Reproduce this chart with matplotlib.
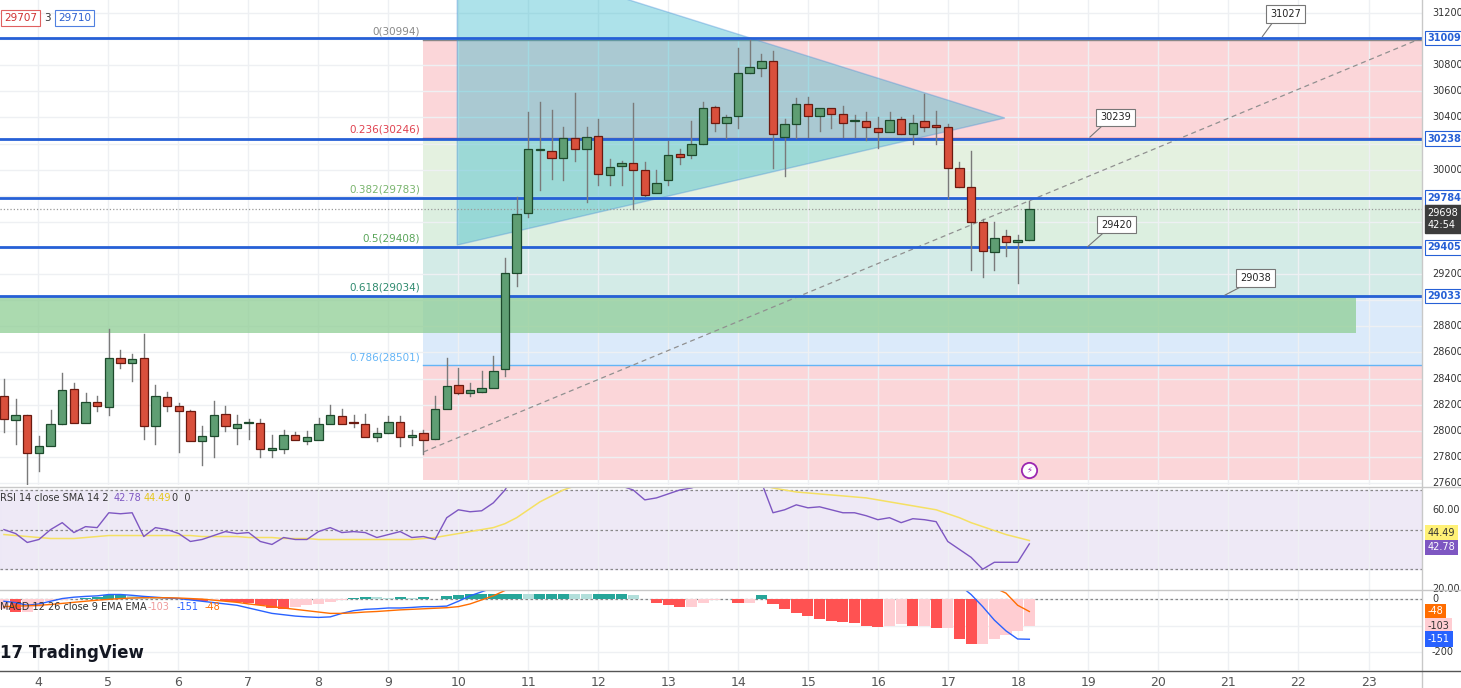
import matplotlib
matplotlib.use("Agg")
import matplotlib.pyplot as plt
import numpy as np
from matplotlib.patches import Rectangle, Polygon

# ---------------- data ----------------
opens  = [28270,28080,28120,27830,27880,28050,28320,28060,28220,28180,28560,28520,28560,28040,28260,28190,28150,27920,27960,28130,
          28020,28060,28060,27850,27860,27970,27920,27930,28050,28110,28070,28050,27950,27980,28070,27950,27980,27940,28170,28350,
          28290,28300,28330,28470,29210,29670,30150,30140,30090,30240,30160,30260,29960,30030,30050,30000,29820,29920,30120,30110,
          30200,30480,30360,30410,30740,30780,30830,30250,30350,30500,30410,30470,30430,30370,30370,30320,30290,30390,30270,30370,
          30340,30330,30010,29870,29600,29370,29490,29450,29460]
closes = [28090,28120,27830,27880,28050,28310,28060,28220,28190,28560,28520,28550,28040,28270,28190,28150,27920,27960,28120,28040,
          28050,28060,27860,27870,27970,27930,27950,28050,28120,28050,28060,27950,27980,28070,27950,27970,27930,28170,28340,28290,
          28310,28330,28460,29210,29660,30160,30150,30090,30240,30160,30250,29970,30020,30050,30000,29810,29900,30110,30100,30200,
          30470,30360,30400,30740,30790,30830,30270,30350,30500,30410,30470,30430,30360,30370,30330,30290,30380,30270,30360,30330,
          30330,30010,29870,29600,29380,29480,29450,29460,29700]
highs  = [28400,28240,28120,27960,28160,28440,28370,28290,28270,28780,28620,28590,28740,28350,28300,28210,28160,28040,28230,28190,
          28120,28090,28090,27970,28010,27990,28000,28100,28200,28170,28120,28130,28020,28110,28110,28010,28010,28270,28560,28480,
          28370,28460,28570,29320,29790,30440,30520,30460,30330,30590,30330,30390,30080,30070,30510,30060,30000,30220,30160,30370,
          30520,30490,30420,30930,30994,30890,30910,30390,30550,30560,30440,30460,30490,30420,30440,30400,30440,30400,30420,30580,
          30450,30350,30060,30140,29620,29600,29540,29500,29760]
lows   = [27990,27900,27580,27690,27960,28050,28080,28080,28150,28120,28480,28380,27940,27900,28150,27840,27940,27740,27800,28000,
          27900,27940,27800,27800,27830,27950,27900,27970,28090,28100,28030,27960,27920,27980,27880,27890,27820,27940,28180,28280,
          28270,28300,28360,28420,29110,29640,29845,29930,29920,30070,29750,29880,29880,29880,29700,29800,29850,29880,30040,30090,
          30200,30300,30240,30320,30740,30720,30010,29950,30240,30250,30300,30320,30250,30250,30230,30170,30310,30270,30200,30300,
          30200,29780,29870,29230,29180,29230,29340,29130,29460]

rsi = [50,48,43.5,45,50,53.5,48.5,51.5,51,58.5,58,58.5,46.5,51,50,48,44,45,47,49,
       48,48.5,44,42.5,46,45,45,49,51,48.5,49,48.5,46,47.5,49,46,46.5,45,56,60,
       59,59.5,63.5,70,80,84,85,82,80,79,76,74,74,72,70,65,66,68,70,
       71,73,72,73,75,74,74,58.5,60,62.5,61,61.5,60,58.5,58.5,57,55,56,53.5,55.5,
       55,54,44,40,36,30,33.5,33.5,33.5,42.78]
rsi_sma = [47.5,47,46.5,46,45.5,45.5,45.5,46,46.5,47,47,47,47,47,47,47,47,46.5,46.5,46.5,
           46.5,46,46,46,45.5,45.5,45.5,45,45,45,45,45,45,45,45,45,45.5,46,47,48,
           49,50,51,53,56,60,64,67,70,72,73,73.5,74,74,74,73.5,73.5,73,73,
           73,73,73,73,73,73,72.5,71,70,69,68.5,68,67.5,67,66.5,66,65,64,63,62,
           61,60,58,56,53.5,51.5,49.5,47.5,46,44.49]
macd_hist = [-40,-50,-50,-30,-10,-5,0,2,5,12,12,10,8,4,3,-3,-5,-8,-5,-8,
             -12,-15,-25,-35,-40,-30,-25,-20,-12,-5,3,6,4,2,5,2,4,-3,8,14,
             17,18,18,18,18,17,18,18,18,17,16,16,16,16,14,-3,-15,-25,-32,
             -30,-15,-5,-3,-18,-18,12,-20,-40,-55,-65,-75,-82,-88,-92,-100,-105,-100,-95,-100,
             -100,-110,-110,-150,-170,-170,-150,-135,-120,-103]
macd_line = [-10,-15,-25,-20,-10,0,5,8,10,15,15,12,8,5,2,0,-5,-10,-15,-20,
             -25,-35,-45,-55,-60,-65,-68,-70,-68,-55,-45,-40,-38,-35,-35,-33,-30,-30,-28,-10,
             10,25,40,60,90,150,220,280,320,350,370,380,390,385,380,360,330,300,280,
             270,270,275,290,320,340,330,300,280,260,240,220,200,180,160,140,120,110,100,90,
             80,75,70,50,15,-30,-80,-120,-150,-151]
macd_signal = [-30,-28,-27,-25,-22,-18,-14,-10,-6,-3,0,2,3,3,3,2,0,-2,-6,-10,
               -14,-20,-25,-30,-35,-40,-45,-50,-55,-55,-53,-50,-48,-45,-42,-40,-38,-36,-34,-30,
               -20,-5,10,30,60,110,170,230,280,320,350,365,375,380,380,375,360,340,320,
               300,290,285,290,300,310,315,310,300,290,275,260,245,230,215,200,185,170,155,140,
               125,115,105,95,80,60,40,20,-25,-48]

day_labels = ["4","5","6","7","8","9","10","11","12","13","14","15","16","17","18","19","20","21","22","23"]
h_levels = [31009, 30238, 29784, 29405, 29033]
fib_ratios = ["0", "0.236", "0.382", "0.5", "0.618", "0.786"]
fib_prices = [30994, 30246, 29783, 29408, 29034, 28501]
callout_vals = [31027, 30239, 29420, 29038]
last_price = 29698

# ---------------- layout ----------------
W, H = 1461, 688
fig = plt.figure(figsize=(W/100, H/100), dpi=100)
fig.patch.set_facecolor("white")
ax = fig.add_axes([0, 1-485/H, 1422/W, 485/H])
axr = fig.add_axes([0, 1-590/H, 1422/W, 102/H])
axm = fig.add_axes([0, 1-670/H, 1422/W, 79/H])

n = len(opens)
idx = np.arange(n)
XMIN, XMAX = -0.34, 121.7
day_pos = [2.92 + 6.01*k for k in range(len(day_labels))]

for a in (ax, axr, axm):
    a.set_xlim(XMIN, XMAX)
    a.set_xticks(day_pos)
    a.tick_params(length=0, labelleft=False, labelbottom=False)
    a.grid(True, color="#eef0f3", lw=1)
    a.set_axisbelow(True)
    for s in a.spines.values():
        s.set_visible(False)
axm.tick_params(labelbottom=True, labelsize=9, colors="#555", pad=4)
axm.set_xticklabels(day_labels)
fig.add_artist(plt.Line2D([1422/W, 1422/W], [0, 1], color="#c8c8c8", lw=1))
fig.add_artist(plt.Line2D([0, 1], [1-487/H]*2, color="#c8c8c8", lw=1))
fig.add_artist(plt.Line2D([0, 1], [1-590/H]*2, color="#c8c8c8", lw=1))
fig.add_artist(plt.Line2D([0, 1], [1-671/H]*2, color="#555", lw=1))

RX = 1.004   # right-axis label x (axes fraction)
FS = 7

# ---------------- main panel ----------------
PMIN, PMAX = 27585, 31300
ax.set_ylim(PMIN, PMAX)
ax.set_yticks(np.arange(27600, 31300, 200))

fx0 = 36.0
band_cols = ["#fbd6d9", "#e4f1e0", "#dcefe0", "#d3ebe7", "#dbeafa", "#fbd6d9"]
edges = fib_prices + [27620]
for k in range(len(fib_prices)):
    ax.add_patch(Rectangle((fx0, edges[k+1]), XMAX-fx0, edges[k]-edges[k+1],
                           facecolor=band_cols[k], edgecolor="none", zorder=0.5))
fib_cols = ["#888888", "#e0414f", "#7ab56e", "#5aa55a", "#2e8a6e", "#64b5f6"]
for r, p, c in zip(fib_ratios, fib_prices, fib_cols):
    ax.plot([fx0, XMAX], [p, p], color=c, lw=1, zorder=1)
    ax.text(fx0-0.3, p+25, f"{r}({p})", ha="right", va="bottom", fontsize=7.5, color=c)

# green zone
ax.add_patch(Rectangle((XMIN, 28750), 116.0-XMIN, 29030-28750,
                       facecolor="#8fce95", alpha=0.75, edgecolor="none", zorder=0.8))

# triangle
tri = Polygon([(38.9, 31714), (85.9, 30396), (38.9, 29423)], closed=True,
              facecolor="#28b4c8", alpha=0.38, edgecolor="#4a8fd8", lw=1, zorder=1.2)
ax.add_patch(tri)

# trend dashed line
ax.plot([36.0, 121.7], [27838, 31009], ls=(0, (4, 3)), color="#909090", lw=0.9, zorder=1.5)
ax.axhline(last_price, color="#999", ls=":", lw=0.9, zorder=1.5)

for p in h_levels:
    ax.axhline(p, color="#2660d6", lw=2, zorder=2)

# candles
for i in range(n):
    o, c, hh, ll = opens[i], closes[i], highs[i], lows[i]
    up = c >= o
    ax.plot([i, i], [ll, hh], color="#7a7a7a", lw=1, zorder=3)
    fc = "#5f9e73" if up else "#d9503c"
    ec = "#1d4a2c" if up else "#6b1a10"
    ax.add_patch(Rectangle((i-0.36, min(o, c)), 0.72, max(abs(c-o), 8),
                           facecolor=fc, edgecolor=ec, lw=0.9, zorder=4))

# callouts
call_pos = [(110.0, 31190, 108.0, 31020), (95.4, 30400, 93.2, 30250), (95.5, 29580, 93.0, 29410), (107.4, 29170, 104.8, 29040)]
for v, (tx, ty, axx, ayy) in zip(callout_vals, call_pos):
    ax.plot([tx-1.1, axx], [ty-60, ayy], color="#777", lw=0.8, zorder=5)
    ax.text(tx, ty, str(v), fontsize=7, ha="center", va="center", color="#222", zorder=6,
            bbox=dict(boxstyle="square,pad=0.4", fc="white", ec="#777", lw=0.8))

# header boxes
ax.text(0.003, 0.963, "29707", transform=ax.transAxes, fontsize=7.5, color="#d03030", va="center",
        bbox=dict(boxstyle="square,pad=0.3", fc="white", ec="#e06060", lw=0.8))
ax.text(0.031, 0.963, "3", transform=ax.transAxes, fontsize=7.5, color="#333", va="center")
ax.text(0.041, 0.963, "29710", transform=ax.transAxes, fontsize=7.5, color="#2a5fd0", va="center",
        bbox=dict(boxstyle="square,pad=0.3", fc="white", ec="#5080e0", lw=0.8))
ax.plot([88.0], [27700], marker="o", ms=11, mfc="white", mec="#9c27b0", mew=1.3, zorder=6)
ax.text(88.0, 27700, "⚡", fontsize=6, color="#9c27b0", ha="center", va="center", zorder=7)

# right price axis
for p in [31200, 30800, 30600, 30400, 30000, 29200, 28800, 28600, 28400, 28200, 28000, 27800, 27600]:
    ax.text(RX+0.003, p, str(p), transform=ax.get_yaxis_transform(), fontsize=FS, color="#333", va="center")
for p in h_levels:
    ax.text(RX, p, str(p), transform=ax.get_yaxis_transform(), fontsize=FS, color="#2660d6",
            va="center", fontweight="bold",
            bbox=dict(boxstyle="square,pad=0.25", fc="white", ec="#2660d6", lw=0.8))
ax.text(RX, last_price-75, str(last_price)+"\n42:54", transform=ax.get_yaxis_transform(), fontsize=FS,
        color="white", va="center", linespacing=1.3, clip_on=False,
        bbox=dict(boxstyle="square,pad=0.25", fc="#3c3c3c", ec="#3c3c3c"))

# ---------------- RSI ----------------
axr.set_ylim(19.5, 71)
axr.set_yticks([])
axr.axhspan(30, 70, color="#ede7f6", alpha=0.9, zorder=0)
for lv in (70, 50, 30):
    axr.axhline(lv, color="#888", ls=(0, (2, 2)), lw=0.9)
axr.plot(np.arange(len(rsi_sma)), rsi_sma, color="#f5e063", lw=1.1, zorder=2)
axr.plot(np.arange(len(rsi)), rsi, color="#7e57c2", lw=1, zorder=3)
axr.text(0.0, 0.90, "RSI 14 close SMA 14 2", transform=axr.transAxes, fontsize=7, color="#333", va="center")
axr.text(0.080, 0.90, "42.78", transform=axr.transAxes, fontsize=7, color="#7e57c2", va="center")
axr.text(0.101, 0.90, "44.49", transform=axr.transAxes, fontsize=7, color="#e6c619", va="center")
axr.text(0.121, 0.90, "0  0", transform=axr.transAxes, fontsize=7, color="#333", va="center")
for p in (60, 20):
    axr.text(RX+0.003, p, f"{p:.2f}", transform=axr.get_yaxis_transform(), fontsize=FS, color="#333", va="center")
axr.text(RX, 48.5, "44.49", transform=axr.get_yaxis_transform(), fontsize=FS, color="#333", va="center",
         bbox=dict(boxstyle="square,pad=0.3", fc="#fff176", ec="none"))
axr.text(RX, 41.0, "42.78", transform=axr.get_yaxis_transform(), fontsize=FS, color="white", va="center",
         bbox=dict(boxstyle="square,pad=0.3", fc="#7e57c2", ec="none"))

# ---------------- MACD ----------------
axm.set_ylim(-265, 28)
axm.set_yticks([-200, -100, 0])
axm.axhline(0, color="#888", ls=(0, (2, 2)), lw=0.9)
cols = []
for i, v in enumerate(macd_hist):
    prev = macd_hist[i-1] if i else v
    if v >= 0:
        cols.append("#26a69a" if v >= prev else "#b2dfdb")
    else:
        cols.append("#ff5252" if v < prev else "#ffcdd2")
axm.bar(np.arange(len(macd_hist)), macd_hist, width=0.95, color=cols, zorder=2)
axm.plot(np.arange(len(macd_line)), macd_line, color="#2962ff", lw=1, zorder=3)
axm.plot(np.arange(len(macd_signal)), macd_signal, color="#ff6d00", lw=1, zorder=3)
axm.text(0.0, 0.80, "MACD 12 26 close 9 EMA EMA", transform=axm.transAxes, fontsize=7, color="#333", va="center")
axm.text(0.104, 0.80, "-103", transform=axm.transAxes, fontsize=7, color="#ef9a9a", va="center")
axm.text(0.124, 0.80, "-151", transform=axm.transAxes, fontsize=7, color="#2962ff", va="center")
axm.text(0.144, 0.80, "-48", transform=axm.transAxes, fontsize=7, color="#ff6d00", va="center")
axm.text(0.0, 0.22, "17 TradingView", transform=axm.transAxes, fontsize=12, fontweight="bold", color="#131722", va="center")
for p in (0, -200):
    axm.text(RX+0.003, p, str(p), transform=axm.get_yaxis_transform(), fontsize=FS, color="#333", va="center")
for p, fc, tc in [(-48, "#ff6d00", "white"), (-103, "#ffcdd2", "#333"), (-151, "#2962ff", "white")]:
    axm.text(RX, p, str(p), transform=axm.get_yaxis_transform(), fontsize=FS, color=tc, va="center",
             bbox=dict(boxstyle="square,pad=0.3", fc=fc, ec="none"))

fig.savefig("out.png", dpi=100)
